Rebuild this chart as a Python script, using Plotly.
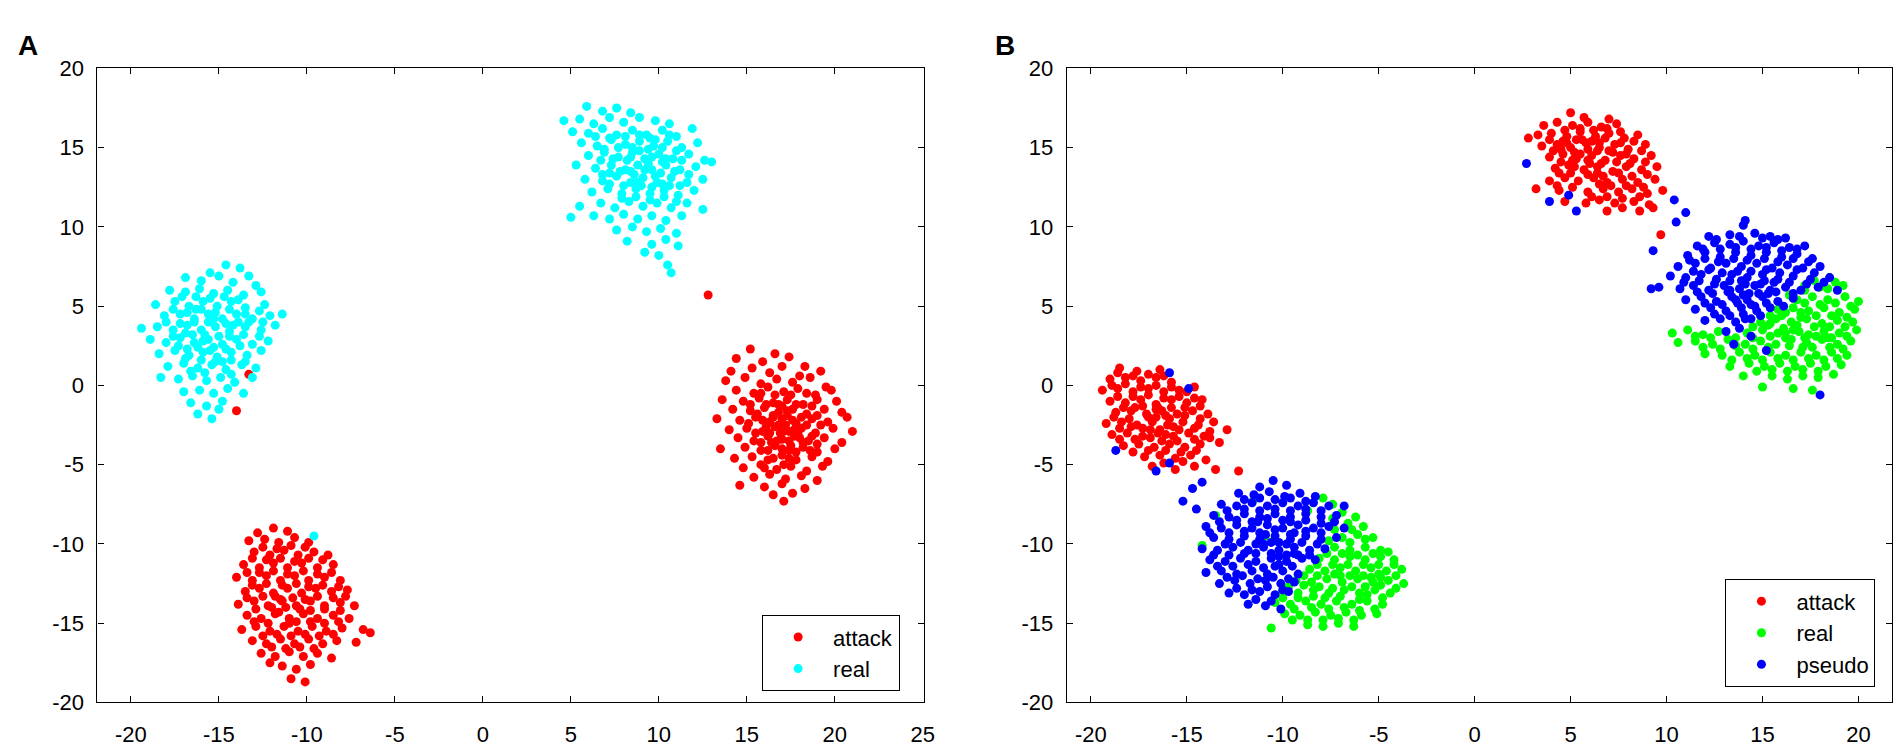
import plotly.graph_objects as go

# ---------- panel A: t-SNE clusters ----------
a_attack_right = [
    (15.2, 2.3), (16.6, 2.0), (14.4, 1.7), (15.9, 1.5), (17.4, 1.8), (18.3, 1.2), (14.1, 0.9), (15.3, 1.1),
    (16.3, 0.8), (17.0, 1.2), (18.0, 0.6), (19.2, 0.9), (13.8, 0.3), (14.9, 0.5), (15.8, 0.1), (16.7, 0.4),
    (17.6, 0.2), (18.6, 0.5), (19.5, -0.1), (14.4, -0.3), (15.4, -0.5), (16.2, -0.1), (17.1, -0.4), (17.9, -0.2),
    (18.9, -0.6), (19.8, -0.3), (13.6, -0.9), (14.8, -1.0), (15.7, -0.8), (16.5, -1.1), (17.3, -0.9), (18.2, -1.2),
    (19.0, -0.9), (20.1, -1.0), (14.2, -1.5), (15.2, -1.6), (16.0, -1.4), (16.8, -1.7), (17.6, -1.5), (18.4, -1.8),
    (19.4, -1.5), (20.4, -1.7), (13.3, -2.1), (14.6, -2.2), (15.5, -2.0), (16.3, -2.3), (17.0, -2.1), (17.8, -2.4),
    (18.7, -2.1), (19.6, -2.3), (20.7, -2.0), (14.0, -2.8), (15.0, -2.7), (15.9, -2.9), (16.6, -2.6), (17.4, -2.9),
    (18.1, -2.7), (18.9, -3.0), (19.9, -2.7), (21.0, -2.9), (14.5, -3.3), (15.4, -3.5), (16.2, -3.2), (17.0, -3.4),
    (17.7, -3.2), (18.5, -3.5), (19.4, -3.3), (20.4, -3.6), (13.5, -4.0), (14.9, -3.9), (15.8, -4.1), (16.6, -3.8),
    (17.4, -4.1), (18.2, -3.9), (19.0, -4.2), (20.0, -4.0), (14.3, -4.6), (15.3, -4.5), (16.2, -4.7), (17.0, -4.4),
    (17.8, -4.7), (18.7, -4.5), (19.6, -4.8), (14.8, -5.2), (15.8, -5.0), (16.7, -5.3), (17.5, -5.1), (18.4, -5.4),
    (19.3, -5.1), (15.4, -5.8), (16.3, -5.6), (17.2, -5.9), (18.1, -5.7), (19.0, -6.0), (14.6, -6.3), (16.0, -6.4),
    (17.0, -6.2), (18.3, -6.5), (16.5, -6.9), (17.6, -6.8), (17.1, -7.3), (16.5, -2.0), (17.2, -2.5), (16.9, -3.0),
    (17.7, -2.8), (16.4, -3.6), (17.3, -1.6), (18.0, -3.3), (16.1, -2.6), (17.5, -3.8), (16.8, -1.2),
]
a_attack_right_core = [
    (15.8, -0.5), (16.6, -0.6), (17.5, -0.6), (18.4, -0.5), (15.2, -1.2), (16.1, -1.2), (17.0, -1.3), (17.8, -1.2),
    (18.7, -1.3), (15.6, -1.8), (16.5, -1.9), (17.3, -1.9), (18.1, -2.0), (19.0, -1.9), (15.1, -2.4), (15.9, -2.2),
    (16.8, -2.5), (17.6, -2.2), (18.4, -2.5), (19.2, -2.5), (15.5, -3.0), (16.3, -3.0), (17.1, -2.9), (17.9, -3.0),
    (18.7, -3.2), (15.8, -3.6), (16.7, -3.5), (17.4, -3.5), (18.2, -3.6), (19.0, -3.7), (16.2, -4.1), (17.0, -4.0),
    (17.8, -4.2), (18.6, -4.1), (16.5, -4.6), (17.4, -4.6), (16.0, -5.2), (17.1, -5.0),
]
a_attack_bottom = [
    (-11.9, -9.0), (-11.1, -9.2), (-12.8, -9.3), (-13.3, -9.8), (-12.4, -9.7), (-11.6, -9.9), (-10.7, -9.6), (-9.9, -9.9),
    (-13.0, -10.5), (-12.1, -10.7), (-11.3, -10.4), (-10.5, -10.7), (-9.6, -10.5), (-8.8, -10.7), (-13.6, -11.3), (-12.7, -11.5),
    (-11.9, -11.2), (-11.1, -11.5), (-10.3, -11.2), (-9.4, -11.5), (-8.5, -11.3), (-14.0, -12.1), (-13.1, -12.3), (-12.3, -12.0),
    (-11.5, -12.3), (-10.7, -12.0), (-9.9, -12.3), (-9.0, -12.1), (-8.1, -12.3), (-13.5, -13.0), (-12.7, -12.8), (-11.9, -13.1),
    (-11.1, -12.8), (-10.3, -13.1), (-9.5, -12.8), (-8.6, -13.0), (-7.7, -12.9), (-13.9, -13.8), (-13.0, -13.6), (-12.2, -13.9),
    (-11.4, -13.6), (-10.6, -13.9), (-9.8, -13.6), (-9.0, -13.9), (-8.1, -13.7), (-7.3, -13.9), (-13.4, -14.5), (-12.6, -14.7),
    (-11.8, -14.4), (-11.0, -14.7), (-10.2, -14.4), (-9.4, -14.7), (-8.5, -14.5), (-7.6, -14.7), (-13.7, -15.4), (-12.9, -15.2),
    (-12.1, -15.5), (-11.3, -15.2), (-10.5, -15.5), (-9.7, -15.2), (-8.9, -15.5), (-8.0, -15.3), (-13.1, -16.1), (-12.3, -16.3),
    (-11.5, -16.0), (-10.7, -16.3), (-9.9, -16.0), (-9.1, -16.3), (-8.3, -16.1), (-12.6, -16.9), (-11.8, -17.1), (-11.0, -16.8),
    (-10.2, -17.1), (-9.4, -16.9), (-8.6, -17.2), (-11.4, -17.7), (-10.6, -17.9), (-9.8, -17.6), (-12.1, -17.5), (-10.9, -18.5),
    (-10.1, -18.7), (-6.8, -15.4), (-6.4, -15.6), (-7.2, -16.2), (-11.2, -14.0), (-10.8, -13.4), (-11.6, -14.3), (-10.4, -14.1),
    (-11.0, -15.0), (-11.8, -13.3), (-10.1, -13.5), (-11.4, -12.6),
]
a_attack_bottom_core = [
    (-12.5, -10.2), (-11.7, -10.3), (-10.9, -10.1), (-10.1, -10.2), (-13.1, -10.9), (-12.3, -11.0), (-11.5, -10.9), (-10.7, -11.1),
    (-9.9, -10.9), (-9.1, -11.0), (-13.4, -11.8), (-12.7, -11.8), (-11.9, -11.7), (-11.1, -11.9), (-10.2, -11.7), (-9.4, -11.9),
    (-8.6, -11.8), (-13.1, -12.6), (-12.3, -12.5), (-10.6, -12.5), (-9.9, -12.7), (-9.1, -12.6), (-8.2, -12.7), (-13.4, -13.4),
    (-12.5, -13.3), (-11.5, -13.5), (-9.4, -13.3), (-8.5, -13.4), (-7.8, -13.3), (-12.9, -14.1), (-12.0, -14.0), (-9.8, -14.2),
    (-9.0, -14.1), (-8.1, -14.2), (-13.0, -14.9), (-12.2, -15.0), (-10.6, -14.9), (-9.8, -14.9), (-9.0, -15.0), (-8.2, -14.9),
    (-12.5, -15.8), (-11.7, -15.7), (-10.9, -15.8), (-10.1, -15.7), (-9.3, -15.8), (-8.5, -15.7), (-12.0, -16.5), (-11.2, -16.6),
    (-10.4, -16.5), (-9.6, -16.6),
]
a_attack_stray = [(12.8, 5.7), (-13.3, 0.7), (-14.0, -1.6)]

a_real_top = [
    (5.9, 17.6), (6.8, 17.3), (7.6, 17.5), (8.4, 17.2), (4.6, 16.7), (5.5, 16.8), (6.3, 16.5), (7.2, 16.9),
    (8.0, 16.6), (8.9, 16.9), (9.8, 16.7), (10.6, 16.5), (5.1, 16.0), (6.0, 15.9), (6.8, 16.2), (7.6, 15.8),
    (8.5, 16.1), (9.3, 15.8), (10.2, 16.1), (11.0, 15.7), (11.9, 16.2), (5.6, 15.3), (6.5, 15.1), (7.3, 15.5),
    (8.1, 15.2), (8.9, 15.4), (9.7, 15.1), (10.5, 15.4), (11.3, 15.0), (12.2, 15.3), (6.0, 14.5), (6.9, 14.7),
    (7.7, 14.4), (8.5, 14.7), (9.2, 14.3), (10.0, 14.6), (10.8, 14.3), (11.7, 14.6), (12.6, 14.2), (5.3, 13.9),
    (6.4, 13.7), (7.3, 13.9), (8.1, 13.6), (8.8, 13.9), (9.6, 13.6), (10.4, 13.9), (11.2, 13.6), (12.1, 13.8),
    (13.0, 14.1), (5.8, 13.0), (6.8, 12.9), (7.6, 13.2), (8.4, 12.8), (9.1, 13.1), (9.9, 12.8), (10.7, 13.1),
    (11.6, 12.8), (12.5, 13.0), (6.2, 12.2), (7.1, 12.4), (7.9, 12.1), (8.7, 12.4), (9.5, 12.1), (10.3, 12.3),
    (11.1, 12.0), (12.0, 12.3), (5.5, 11.3), (6.7, 11.5), (7.5, 11.2), (8.3, 11.6), (9.1, 11.3), (9.9, 11.5),
    (10.7, 11.2), (11.6, 11.5), (12.5, 11.1), (5.0, 10.6), (6.3, 10.7), (7.2, 10.5), (8.0, 10.8), (8.8, 10.5),
    (9.6, 10.7), (10.4, 10.4), (11.3, 10.7), (7.6, 9.8), (8.5, 10.0), (9.3, 9.7), (10.1, 9.9), (11.0, 9.6),
    (8.2, 9.1), (9.6, 8.9), (10.4, 9.2), (11.1, 8.8), (10.0, 8.2), (10.5, 7.6), (10.7, 7.1), (9.2, 8.4),
    (8.6, 13.3), (9.4, 14.0), (8.2, 14.2), (9.8, 13.2), (9.0, 12.6), (10.2, 14.1), (8.9, 14.8), (9.5, 15.6),
    (7.8, 13.5), (10.6, 12.6),
]
a_real_top_core = [
    (6.4, 15.7), (7.2, 15.6), (8.1, 15.7), (8.9, 15.8), (9.8, 15.5), (10.6, 15.8), (6.9, 14.9), (7.7, 15.0),
    (8.5, 15.0), (9.4, 14.9), (10.2, 15.0), (11.0, 14.8), (6.7, 14.2), (7.4, 14.3), (8.4, 14.4), (9.6, 14.4),
    (10.4, 14.3), (11.3, 14.2), (6.8, 13.3), (7.2, 13.4), (8.4, 13.5), (9.2, 13.6), (10.1, 13.4), (10.9, 13.5),
    (11.7, 13.3), (7.2, 12.7), (8.0, 12.6), (8.8, 12.8), (9.6, 12.5), (10.2, 12.7), (11.2, 12.6), (7.9, 11.8),
    (8.7, 11.9), (9.5, 11.7), (10.3, 11.9), (11.0, 11.6),
]
a_real_left = [
    (-14.6, 7.6), (-13.8, 7.4), (-15.5, 7.1), (-13.3, 6.9), (-16.9, 6.8), (-16.0, 6.6), (-15.0, 6.9), (-14.2, 6.5),
    (-12.9, 6.3), (-17.8, 6.0), (-16.9, 5.9), (-16.1, 6.1), (-15.3, 5.8), (-14.5, 6.0), (-13.6, 5.7), (-12.6, 5.9),
    (-18.6, 5.1), (-17.5, 5.3), (-16.7, 5.0), (-15.9, 5.3), (-15.1, 5.0), (-14.3, 5.3), (-13.5, 4.9), (-12.4, 5.1),
    (-18.1, 4.4), (-17.2, 4.5), (-16.4, 4.2), (-15.6, 4.5), (-14.8, 4.2), (-14.0, 4.5), (-13.1, 4.2), (-12.1, 4.4),
    (-11.4, 4.5), (-19.4, 3.6), (-18.5, 3.7), (-17.6, 3.5), (-16.8, 3.8), (-16.0, 3.5), (-15.2, 3.7), (-14.4, 3.4),
    (-13.5, 3.7), (-12.6, 3.5), (-11.8, 3.8), (-18.9, 2.9), (-18.0, 2.7), (-17.2, 3.0), (-16.4, 2.7), (-15.6, 2.9),
    (-14.8, 2.6), (-14.0, 2.9), (-13.1, 2.6), (-12.2, 2.8), (-18.4, 2.0), (-17.5, 2.2), (-16.7, 1.9), (-15.9, 2.1),
    (-15.1, 1.8), (-14.3, 2.1), (-13.4, 1.9), (-12.6, 2.2), (-17.9, 1.2), (-17.0, 1.4), (-16.2, 1.1), (-15.4, 1.3),
    (-14.6, 1.0), (-13.7, 1.3), (-12.9, 1.1), (-18.3, 0.5), (-17.3, 0.4), (-16.5, 0.6), (-15.7, 0.3), (-14.9, 0.5),
    (-14.1, 0.2), (-13.1, 0.5), (-17.0, -0.4), (-16.1, -0.3), (-15.3, -0.5), (-14.5, -0.2), (-13.6, -0.5), (-16.6, -1.1),
    (-15.7, -1.3), (-14.8, -1.0), (-15.0, -1.5), (-15.4, -2.1), (-16.2, -1.8), (-15.8, 3.2), (-15.0, 3.1), (-16.2, 2.4),
    (-15.3, 2.4), (-14.6, 3.9), (-16.5, 3.2), (-15.6, 4.0), (-14.8, 1.5), (-16.3, 4.8), (-13.9, 4.0),
]
a_real_left_core = [
    (-17.1, 5.6), (-16.3, 5.6), (-15.5, 5.5), (-14.7, 5.6), (-13.9, 5.4), (-17.6, 4.8), (-16.8, 4.6), (-16.0, 4.8),
    (-15.2, 4.6), (-14.4, 4.8), (-13.5, 4.5), (-12.7, 4.7), (-18.0, 4.0), (-17.2, 3.9), (-16.4, 4.0), (-15.3, 4.2),
    (-14.2, 3.8), (-13.3, 4.0), (-12.5, 4.0), (-17.6, 3.1), (-16.9, 3.3), (-15.9, 2.8), (-14.4, 3.1), (-13.6, 3.2),
    (-12.7, 3.1), (-17.3, 2.5), (-16.8, 2.3), (-15.5, 2.2), (-14.6, 2.3), (-13.8, 2.5), (-16.9, 1.7), (-16.0, 1.6),
    (-15.2, 1.5), (-14.3, 1.6), (-13.5, 1.5), (-16.6, 0.9), (-15.8, 0.8), (-14.3, 0.7),
]
a_real_stray = [(-9.6, -9.5)]

# ---------- panel B ----------
b_attack_top = [
    (5.0, 17.2), (5.7, 16.9), (7.0, 16.8), (3.6, 16.4), (4.3, 16.6), (5.1, 16.4), (5.9, 16.6), (6.6, 16.3),
    (7.4, 16.5), (3.3, 15.8), (4.0, 15.9), (4.8, 15.7), (5.5, 16.0), (6.3, 15.7), (7.0, 15.9), (7.8, 15.6),
    (8.5, 15.8), (3.5, 15.1), (4.3, 15.2), (5.0, 15.0), (5.8, 15.3), (6.5, 15.0), (7.3, 15.2), (8.0, 14.9),
    (8.9, 15.2), (3.9, 14.4), (4.6, 14.6), (5.3, 14.3), (6.1, 14.5), (6.8, 14.2), (7.6, 14.5), (8.3, 14.3),
    (9.2, 14.5), (4.2, 13.7), (4.9, 13.9), (5.7, 13.6), (6.4, 13.8), (7.2, 13.5), (7.9, 13.8), (8.7, 13.6),
    (9.5, 13.8), (3.9, 12.9), (4.7, 13.1), (5.4, 12.9), (6.2, 13.1), (6.9, 12.8), (7.7, 13.0), (8.5, 12.8),
    (9.4, 13.0), (3.2, 12.4), (4.4, 12.3), (5.9, 12.2), (6.7, 12.4), (7.5, 12.2), (8.2, 12.4), (9.0, 12.1),
    (9.8, 12.3), (4.7, 11.6), (5.8, 11.5), (6.5, 11.7), (7.3, 11.5), (8.3, 11.6), (9.1, 11.4), (6.9, 11.0),
    (7.7, 11.2), (8.6, 11.0), (9.3, 11.2), (5.5, 14.6), (6.0, 14.0), (5.2, 13.8), (6.5, 15.3), (4.8, 15.3),
    (5.6, 15.5), (6.4, 13.4), (7.0, 14.8), (4.5, 14.9), (5.9, 14.9), (2.8, 15.6),
]
b_attack_top_core = [
    (4.7, 16.1), (5.5, 16.2), (6.2, 16.1), (6.9, 16.2), (7.6, 16.0), (3.9, 15.5), (4.6, 15.4), (5.3, 15.5),
    (6.1, 15.4), (6.8, 15.6), (7.6, 15.3), (8.3, 15.4), (4.1, 14.8), (5.2, 14.7), (6.4, 14.8), (7.2, 14.7),
    (7.9, 14.6), (8.7, 14.8), (4.5, 14.1), (5.1, 14.2), (5.9, 14.2), (6.6, 14.0), (7.4, 14.1), (8.1, 14.0),
    (8.9, 14.1), (4.4, 13.4), (5.0, 13.4), (5.9, 13.3), (6.7, 13.2), (7.5, 13.4), (8.2, 13.2), (9.0, 13.3),
    (4.3, 12.6), (5.1, 12.5), (6.5, 12.7), (7.1, 12.6), (7.9, 12.6), (8.8, 12.5), (6.1, 11.9), (6.9, 11.9),
    (7.7, 11.8), (8.6, 11.9),
]
b_attack_left = [
    (-18.5, 1.1), (-17.6, 0.9), (-16.4, 1.0), (-19.0, 0.4), (-18.2, 0.5), (-17.4, 0.3), (-16.6, 0.5), (-15.8, 0.2),
    (-19.4, -0.3), (-18.6, -0.2), (-17.8, -0.4), (-17.0, -0.2), (-16.2, -0.4), (-15.4, -0.3), (-14.6, -0.1), (-19.0, -1.0),
    (-18.2, -1.1), (-17.4, -0.9), (-16.6, -1.2), (-15.8, -0.9), (-15.0, -1.1), (-14.2, -0.9), (-18.7, -1.7), (-17.9, -1.6),
    (-17.1, -1.8), (-16.3, -1.6), (-15.5, -1.8), (-14.7, -1.6), (-13.9, -1.8), (-19.2, -2.4), (-18.4, -2.3), (-17.6, -2.5),
    (-16.8, -2.3), (-16.0, -2.5), (-15.2, -2.3), (-14.4, -2.5), (-13.6, -2.3), (-18.9, -3.1), (-18.1, -3.0), (-17.3, -3.2),
    (-16.5, -3.0), (-15.7, -3.2), (-14.9, -3.0), (-14.1, -3.2), (-12.9, -2.8), (-18.3, -3.8), (-17.5, -3.7), (-16.7, -3.9),
    (-15.9, -3.7), (-15.1, -3.9), (-14.3, -3.7), (-13.3, -3.6), (-17.2, -4.5), (-16.4, -4.4), (-15.6, -4.6), (-14.8, -4.4),
    (-14.0, -4.7), (-16.8, -5.1), (-15.6, -5.3), (-14.6, -5.1), (-17.0, -2.0), (-16.4, -2.8), (-17.3, -2.7), (-16.1, -1.9),
    (-16.9, -3.3), (-17.7, -1.4), (-15.7, -2.6), (-16.6, -1.5),
]
b_attack_left_core = [
    (-18.6, 0.8), (-17.8, 0.6), (-17.0, 0.7), (-16.2, 0.6), (-18.9, 0.0), (-18.2, 0.1), (-17.4, -0.1), (-16.6, 0.0),
    (-15.8, -0.1), (-15.0, -0.4), (-18.6, -0.7), (-17.8, -0.7), (-17.0, -0.6), (-16.2, -0.8), (-15.4, -0.7), (-14.6, -0.8),
    (-18.3, -1.4), (-17.3, -1.3), (-16.5, -1.4), (-15.8, -1.4), (-15.1, -1.4), (-14.3, -1.3), (-18.8, -2.0), (-18.0, -2.1),
    (-16.6, -2.0), (-15.9, -2.1), (-15.1, -1.9), (-14.3, -2.1), (-18.5, -2.7), (-17.9, -2.6), (-16.9, -2.8), (-16.1, -3.1),
    (-15.4, -2.8), (-14.6, -2.7), (-13.8, -2.9), (-18.5, -3.4), (-17.7, -3.4), (-16.3, -3.5), (-15.5, -3.5), (-14.6, -3.4),
    (-13.8, -3.3), (-17.8, -4.2), (-17.0, -4.1), (-16.1, -4.1), (-15.3, -4.2), (-14.5, -4.1), (-16.2, -4.9), (-15.2, -4.8),
]
b_attack_stray = [(-13.5, -5.3), (-12.3, -5.4), (9.7, 9.5)]

b_real_right = [
    (18.5, 6.8), (17.7, 6.6), (18.4, 6.1), (19.2, 6.3), (17.2, 6.0), (16.8, 5.4), (17.6, 5.6), (18.4, 5.4),
    (19.3, 5.6), (20.0, 5.3), (15.8, 4.8), (16.6, 4.9), (17.4, 4.7), (18.2, 4.9), (19.0, 4.6), (19.8, 4.8),
    (14.9, 4.0), (15.7, 4.2), (16.5, 4.0), (17.3, 4.2), (18.1, 3.9), (18.9, 4.1), (19.7, 4.0), (10.3, 3.3),
    (11.1, 3.5), (11.9, 3.2), (12.7, 3.4), (14.2, 3.3), (15.0, 3.5), (15.8, 3.3), (16.6, 3.5), (17.4, 3.2),
    (18.2, 3.4), (19.0, 3.3), (19.9, 3.5), (10.6, 2.7), (11.5, 2.8), (12.4, 2.6), (13.2, 2.9), (14.1, 2.6),
    (14.9, 2.8), (15.7, 2.6), (16.5, 2.9), (17.3, 2.7), (18.1, 2.9), (18.9, 2.6), (19.6, 2.8), (12.0, 2.0),
    (12.9, 1.9), (13.8, 2.1), (14.6, 1.9), (15.4, 2.1), (16.2, 1.9), (17.0, 2.1), (17.8, 1.9), (18.6, 2.1),
    (19.4, 1.9), (13.3, 1.2), (14.3, 1.4), (15.1, 1.2), (15.9, 1.4), (16.7, 1.2), (17.5, 1.4), (18.3, 1.2),
    (19.1, 1.3), (14.0, 0.6), (15.5, 0.6), (16.3, 0.4), (17.1, 0.6), (17.9, 0.5), (18.7, 0.7), (15.0, -0.1),
    (16.6, -0.2), (17.6, -0.3), (16.8, 3.8), (17.2, 3.0), (16.2, 3.0), (17.8, 4.4), (16.0, 4.4), (17.0, 4.6),
    (17.6, 2.4), (16.4, 2.5), (15.4, 3.9), (18.4, 3.0),
]
b_real_right_core = [
    (17.2, 6.3), (18.0, 6.2), (18.8, 6.5), (16.4, 5.7), (17.2, 5.2), (18.0, 5.1), (18.8, 5.2), (19.6, 5.0),
    (15.4, 4.4), (16.2, 4.6), (17.0, 4.3), (18.6, 4.4), (19.4, 4.3), (14.5, 3.7), (15.3, 3.8), (16.1, 3.6),
    (16.9, 3.4), (17.7, 3.7), (18.5, 3.7), (19.3, 3.7), (11.5, 3.1), (12.3, 3.0), (13.6, 3.0), (14.5, 3.0),
    (15.4, 3.1), (16.2, 3.3), (17.8, 3.1), (18.6, 3.0), (19.4, 3.1), (11.9, 2.4), (12.8, 2.3), (13.6, 2.5),
    (14.5, 2.3), (15.3, 2.4), (17.1, 2.4), (18.5, 2.4), (19.2, 2.3), (13.4, 1.6), (14.2, 1.7), (15.0, 1.6),
    (15.8, 1.7), (16.6, 1.6), (17.4, 1.7), (18.2, 1.6), (18.9, 1.7), (14.7, 0.9), (15.5, 1.0), (16.3, 0.9),
    (17.1, 1.0), (17.9, 0.9),
]
b_real_left = [
    (-7.9, -7.1), (-7.4, -7.5), (-8.7, -7.9), (-6.9, -8.0), (-6.2, -8.3), (-6.6, -8.7), (-5.8, -8.9), (-7.3, -9.1),
    (-6.9, -9.6), (-6.1, -9.4), (-5.3, -9.6), (-7.3, -10.2), (-6.5, -10.4), (-5.7, -10.2), (-4.9, -10.4), (-8.1, -10.9),
    (-7.3, -11.0), (-6.5, -10.8), (-5.7, -11.0), (-4.9, -10.8), (-4.2, -11.0), (-8.6, -11.6), (-7.8, -11.7), (-7.0, -11.5),
    (-6.2, -11.7), (-5.4, -11.5), (-4.6, -11.7), (-3.8, -11.6), (-9.3, -12.3), (-8.5, -12.4), (-7.7, -12.2), (-6.9, -12.4),
    (-6.1, -12.2), (-5.3, -12.4), (-4.5, -12.3), (-3.7, -12.5), (-10.0, -13.0), (-9.2, -13.1), (-8.4, -12.9), (-7.6, -13.1),
    (-6.8, -12.9), (-6.0, -13.1), (-5.2, -12.9), (-4.4, -13.1), (-10.4, -13.7), (-9.6, -13.8), (-8.8, -13.6), (-8.0, -13.8),
    (-7.2, -13.6), (-6.4, -13.8), (-5.6, -13.6), (-4.8, -13.8), (-9.9, -14.4), (-9.1, -14.5), (-8.3, -14.3), (-7.5, -14.5),
    (-6.7, -14.3), (-5.9, -14.5), (-5.1, -14.4), (-10.6, -15.3), (-8.7, -15.1), (-7.9, -15.2), (-7.1, -15.0), (-6.3, -15.2),
    (-11.5, -7.2), (-10.9, -9.5), (-14.2, -10.1), (-13.5, -8.2), (-7.0, -12.0), (-6.4, -12.7), (-7.4, -12.8), (-6.6, -11.3),
    (-5.8, -12.0), (-7.8, -13.4), (-6.0, -13.5), (-5.0, -11.9),
]
b_real_left_core = [
    (-7.4, -8.4), (-6.4, -9.1), (-7.6, -9.8), (-6.5, -9.9), (-5.7, -9.7), (-7.7, -10.6), (-6.9, -10.6), (-6.1, -10.7),
    (-5.3, -10.6), (-4.5, -10.5), (-8.2, -11.3), (-7.4, -11.3), (-5.8, -11.3), (-5.0, -11.3), (-4.2, -11.3), (-8.9, -12.0),
    (-8.2, -12.0), (-7.3, -11.9), (-6.5, -12.0), (-5.4, -12.1), (-4.9, -12.1), (-4.1, -12.0), (-9.7, -12.7), (-8.9, -12.6),
    (-8.1, -12.7), (-5.7, -12.7), (-4.9, -12.6), (-4.1, -12.8), (-10.0, -13.4), (-9.2, -13.4), (-8.4, -13.3), (-7.0, -13.3),
    (-5.6, -13.2), (-4.8, -13.4), (-9.4, -14.1), (-8.5, -14.0), (-7.6, -14.1), (-6.8, -14.0), (-6.0, -14.2), (-5.2, -14.1),
    (-9.5, -14.8), (-8.7, -14.8), (-7.9, -14.8), (-7.1, -14.7), (-6.3, -14.8),
]

b_pseudo_right = [
    (14.1, 10.4), (14.0, 10.1), (12.2, 9.4), (13.3, 9.5), (14.6, 9.6), (15.4, 9.4), (16.2, 9.3), (11.6, 8.8),
    (12.5, 9.0), (13.3, 8.9), (14.0, 9.1), (14.8, 8.8), (15.6, 9.0), (16.4, 8.7), (17.2, 8.8), (11.1, 8.2),
    (12.0, 8.4), (12.8, 8.1), (13.6, 8.4), (14.4, 8.2), (15.2, 8.4), (16.0, 8.1), (16.8, 8.3), (17.6, 8.0),
    (10.6, 7.5), (11.5, 7.7), (12.3, 7.4), (13.1, 7.7), (13.9, 7.5), (14.7, 7.7), (15.5, 7.4), (16.3, 7.6),
    (17.1, 7.4), (18.0, 7.5), (10.2, 6.9), (11.0, 6.8), (11.8, 7.0), (12.6, 6.7), (13.4, 7.0), (14.2, 6.8),
    (15.0, 7.0), (15.8, 6.7), (16.6, 6.9), (17.5, 6.7), (18.5, 6.8), (10.7, 6.1), (11.4, 6.3), (12.2, 6.0),
    (13.0, 6.3), (13.8, 6.1), (14.6, 6.3), (15.4, 6.0), (16.2, 6.2), (17.0, 6.0), (17.9, 6.2), (18.9, 6.0),
    (11.0, 5.4), (11.8, 5.6), (12.6, 5.3), (13.4, 5.6), (14.2, 5.4), (15.0, 5.6), (15.8, 5.3), (16.6, 5.5),
    (11.5, 4.8), (12.3, 4.9), (13.1, 4.7), (13.9, 4.9), (14.7, 4.7), (15.4, 4.9), (12.0, 4.1), (12.8, 4.2),
    (13.6, 4.0), (14.4, 4.2), (13.1, 3.4), (13.8, 3.6), (14.4, 3.1), (13.5, 2.6), (15.2, 2.2), (14.3, 5.8),
    (14.9, 6.4), (13.7, 5.2), (14.6, 5.0), (15.3, 5.8), (13.9, 6.6), (14.4, 7.2), (13.3, 6.0), (15.1, 6.6),
    (14.0, 4.5), (18.0, -0.6),
]
b_pseudo_right_core = [
    (12.6, 9.2), (13.8, 9.4), (15.0, 9.3), (15.8, 9.2), (11.9, 8.6), (12.8, 8.6), (13.6, 8.7), (14.4, 8.6),
    (15.2, 8.7), (16.0, 8.5), (16.8, 8.6), (11.2, 7.9), (12.0, 8.0), (12.7, 7.8), (13.5, 8.0), (14.2, 7.9),
    (15.1, 8.0), (15.8, 7.8), (16.6, 8.0), (17.4, 7.8), (11.4, 7.2), (12.2, 7.3), (12.9, 7.1), (13.7, 7.2),
    (15.2, 7.3), (15.9, 7.1), (16.8, 7.3), (17.7, 7.1), (10.9, 6.5), (11.7, 6.6), (12.5, 6.4), (13.3, 6.6),
    (14.1, 6.4), (15.6, 6.5), (16.4, 6.5), (17.3, 6.4), (18.2, 6.5), (11.6, 5.9), (12.4, 5.8), (13.2, 5.9),
    (14.0, 5.7), (14.8, 5.8), (15.7, 5.9), (16.6, 5.8), (12.0, 5.2), (12.9, 5.1), (13.6, 5.4), (14.4, 5.1),
    (15.2, 5.2), (16.1, 5.0), (12.5, 4.5), (13.3, 4.4), (14.1, 4.2), (14.9, 4.4),
]
b_pseudo_left = [
    (-10.5, -6.0), (-9.8, -6.3), (-11.2, -6.4), (-12.3, -6.8), (-11.5, -6.9), (-10.7, -6.7), (-9.9, -7.0), (-9.1, -6.8),
    (-8.3, -7.0), (-13.2, -7.5), (-12.4, -7.6), (-11.6, -7.4), (-10.8, -7.6), (-10.0, -7.4), (-9.2, -7.6), (-8.4, -7.4),
    (-7.6, -7.6), (-13.6, -8.2), (-12.8, -8.3), (-12.0, -8.1), (-11.2, -8.3), (-10.4, -8.1), (-9.6, -8.3), (-8.8, -8.1),
    (-8.0, -8.3), (-7.2, -8.2), (-14.0, -8.9), (-13.2, -9.0), (-12.4, -8.8), (-11.6, -9.0), (-10.8, -8.8), (-10.0, -9.0),
    (-9.2, -8.8), (-8.4, -9.0), (-7.6, -8.9), (-6.8, -9.0), (-13.6, -9.6), (-12.8, -9.7), (-12.0, -9.5), (-11.2, -9.7),
    (-10.4, -9.5), (-9.6, -9.7), (-8.8, -9.5), (-8.0, -9.7), (-7.2, -9.6), (-14.2, -10.3), (-13.4, -10.4), (-12.6, -10.2),
    (-11.8, -10.4), (-11.0, -10.2), (-10.2, -10.4), (-9.4, -10.2), (-8.6, -10.4), (-7.8, -10.3), (-13.8, -11.0), (-13.0, -11.1),
    (-12.2, -10.9), (-11.4, -11.1), (-10.6, -10.9), (-9.8, -11.1), (-9.0, -10.9), (-8.3, -11.0), (-14.0, -11.8), (-13.2, -11.7),
    (-12.4, -11.9), (-11.6, -11.7), (-10.8, -11.9), (-10.0, -11.7), (-9.2, -11.9), (-13.3, -12.5), (-12.5, -12.3), (-11.7, -12.5),
    (-10.9, -12.3), (-10.1, -12.5), (-9.4, -12.4), (-12.8, -13.1), (-12.0, -13.2), (-11.2, -13.0), (-10.4, -13.2), (-9.7, -13.0),
    (-11.8, -13.8), (-10.9, -13.9), (-10.1, -14.1), (-10.2, -9.9), (-9.8, -10.7), (-10.6, -10.6), (-9.4, -9.3), (-10.9, -9.4),
    (-10.0, -8.5), (-11.0, -10.0), (-9.2, -10.7), (-10.4, -11.4), (-11.3, -8.6),
]
b_pseudo_left_core = [
    (-12.0, -7.2), (-11.2, -7.1), (-10.4, -7.2), (-9.6, -7.1), (-8.8, -7.3), (-12.9, -7.9), (-12.0, -7.8), (-11.2, -7.9),
    (-10.4, -7.8), (-9.6, -7.9), (-8.8, -7.8), (-8.0, -7.9), (-13.3, -8.6), (-12.4, -8.5), (-11.6, -8.6), (-10.8, -8.4),
    (-9.6, -8.6), (-8.8, -8.5), (-8.0, -8.7), (-7.3, -8.6), (-13.8, -9.3), (-12.8, -9.3), (-12.0, -9.2), (-11.2, -9.3),
    (-10.4, -9.1), (-9.6, -9.4), (-8.8, -9.2), (-8.0, -9.3), (-13.0, -10.0), (-12.2, -9.9), (-11.4, -10.0), (-10.6, -9.9),
    (-9.8, -10.0), (-9.0, -9.9), (-8.2, -10.0), (-13.6, -10.7), (-12.8, -10.7), (-12.0, -10.6), (-11.4, -10.6), (-10.2, -10.8),
    (-9.4, -10.6), (-8.6, -10.7), (-13.4, -11.4), (-12.6, -11.4), (-11.8, -11.3), (-11.0, -11.5), (-10.2, -11.3), (-9.5, -11.4),
    (-12.9, -12.1), (-12.1, -12.0), (-11.3, -12.2), (-10.5, -12.1), (-9.7, -12.2), (-12.4, -12.8), (-11.6, -12.9), (-10.8, -12.7),
    (-10.0, -12.9), (-11.4, -13.5), (-10.6, -13.6),
]
b_pseudo_stray = [
    (2.7, 14.0), (3.9, 11.6), (4.9, 12.0), (5.3, 11.0), (10.4, 11.7), (11.0, 10.9), (10.5, 10.3), (9.3, 8.5),
    (9.2, 6.1), (9.6, 6.2), (-15.9, 0.8), (-14.9, -0.2), (-18.7, -4.1), (-15.9, -4.9), (-16.6, -5.4), (-14.2, -6.1),
    (-14.7, -6.5), (-15.2, -7.3), (-14.5, -7.8), (-6.8, -7.6),
]

xticks_a = [-20, -15, -10, -5, 0, 5, 10, 15, 20, 25]
xticks_b = [-20, -15, -10, -5, 0, 5, 10, 15, 20]
yticks = [-20, -15, -10, -5, 0, 5, 10, 15, 20]

FONT = "Liberation Sans, Arial, sans-serif"


def xs(*groups):
    return [p[0] for g in groups for p in g]


def ys(*groups):
    return [p[1] for g in groups for p in g]


def labels(vals):
    # plain hyphen minus, as in the original figure
    return [str(v) for v in vals]


fig = go.Figure()

mk = dict(size=9, line=dict(width=0))


def add(groups, name, color, xa, ya, legend):
    fig.add_trace(go.Scatter(x=xs(*groups), y=ys(*groups), mode="markers", name=name,
                             marker=dict(color=color, **mk), xaxis=xa, yaxis=ya, legend=legend))


add([a_attack_right, a_attack_right_core, a_attack_bottom, a_attack_bottom_core, a_attack_stray],
    "attack", "#ff0000", "x", "y", "legend")
add([a_real_top, a_real_top_core, a_real_left, a_real_left_core, a_real_stray],
    "real", "#00ffff", "x", "y", "legend")

add([b_attack_top, b_attack_top_core, b_attack_left, b_attack_left_core, b_attack_stray],
    "attack", "#ff0000", "x2", "y2", "legend2")
add([b_real_right, b_real_right_core, b_real_left, b_real_left_core],
    "real", "#00ff00", "x2", "y2", "legend2")
add([b_pseudo_right, b_pseudo_right_core, b_pseudo_left, b_pseudo_left_core, b_pseudo_stray],
    "pseudo", "#0000ff", "x2", "y2", "legend2")

ax = dict(showline=True, linecolor="black", linewidth=1.3, mirror="ticks", ticks="inside",
          ticklen=6, tickwidth=1.3, tickcolor="black", showgrid=False, zeroline=False,
          tickfont=dict(family=FONT, size=22, color="black"))

leg = dict(xanchor="right", yanchor="bottom", bgcolor="white", bordercolor="black",
           borderwidth=1.3, font=dict(family=FONT, size=22), itemwidth=60, tracegroupgap=0)

fig.update_layout(
    width=1902, height=751,
    margin=dict(l=0, r=0, t=0, b=0),
    paper_bgcolor="white", plot_bgcolor="white",
    font=dict(family=FONT, size=22, color="black"),
    xaxis=dict(domain=[90 / 1902, 921 / 1902], range=[-21.9, 25.05], tickvals=xticks_a,
               ticktext=labels(xticks_a), anchor="y", ticklabelstandoff=12, **ax),
    yaxis=dict(domain=[45 / 751, 701 / 751], range=[-20, 20], tickvals=yticks,
               ticktext=labels(yticks), anchor="x", ticklabelstandoff=8, **ax),
    xaxis2=dict(domain=[1065 / 1902, 1895 / 1902], range=[-21.25, 21.75], tickvals=xticks_b,
                ticktext=labels(xticks_b), anchor="y2", ticklabelstandoff=12, **ax),
    yaxis2=dict(domain=[45 / 751, 701 / 751], range=[-20, 20], tickvals=yticks,
                ticktext=labels(yticks), anchor="x2", ticklabelstandoff=8, **ax),
    legend=dict(x=897 / 1902, y=1 - 694 / 751, **leg),
    legend2=dict(x=1878 / 1902, y=1 - 690 / 751, **leg),
    annotations=[
        dict(text="<b>A</b>", x=8 / 1902, y=1 - 8 / 751, xref="paper", yref="paper",
             xanchor="left", yanchor="top", showarrow=False, font=dict(family=FONT, size=28)),
        dict(text="<b>B</b>", x=991 / 1902, y=1 - 8 / 751, xref="paper", yref="paper",
             xanchor="left", yanchor="top", showarrow=False, font=dict(family=FONT, size=28)),
    ],
)

fig.write_html("out.html")
